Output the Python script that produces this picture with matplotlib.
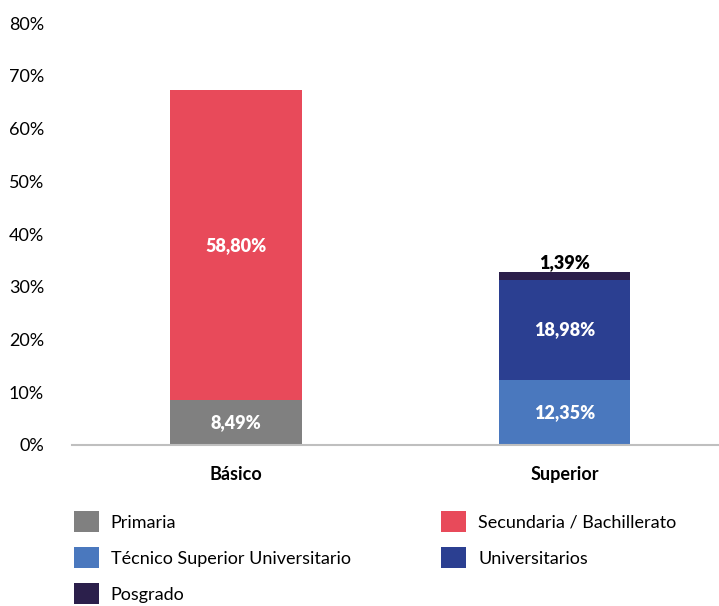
import matplotlib
matplotlib.use("Agg")
import matplotlib.pyplot as plt
from matplotlib.patches import Patch

plt.rcParams['font.family'] = ['Lato', 'DejaVu Sans']

categories = ['Básico', 'Superior']
series = ['Primaria', 'Secundaria / Bachillerato', 'Técnico Superior Universitario',
          'Universitarios', 'Posgrado']
# share of each level within its category (percent)
values = {
    'Primaria': [8.49, 0],
    'Secundaria / Bachillerato': [58.80, 0],
    'Técnico Superior Universitario': [0, 12.35],
    'Universitarios': [0, 18.98],
    'Posgrado': [0, 1.39],
}
labels = {
    'Primaria': ['8,49%', ''],
    'Secundaria / Bachillerato': ['58,80%', ''],
    'Técnico Superior Universitario': ['', '12,35%'],
    'Universitarios': ['', '18,98%'],
    'Posgrado': ['', '1,39%'],
}
yticks = [0, 10, 20, 30, 40, 50, 60, 70, 80]
colors = {
    'Primaria': '#808080',
    'Secundaria / Bachillerato': '#E84A5A',
    'Técnico Superior Universitario': '#4A78BE',
    'Universitarios': '#2B3F91',
    'Posgrado': '#2B1F4B',
}

fig = plt.figure(figsize=(7.19, 6.06), dpi=100)
ax = fig.add_axes([0.100, 0.2657, 0.900, 0.6963])

x = range(len(categories))
bottom = [0, 0]
for s in series:
    v = values[s]
    ax.bar(x, v, width=0.4, bottom=bottom, color=colors[s], label=s)
    for i in x:
        if v[i] <= 0:
            continue
        if v[i] < 5:
            ax.text(i, bottom[i] + v[i] + 0.3, labels[s][i], ha='center', va='bottom',
                    fontsize=13, fontweight='heavy', color='black')
        else:
            ax.text(i, bottom[i] + v[i] / 2, labels[s][i], ha='center', va='center',
                    fontsize=13, fontweight='heavy', color='white')
    bottom = [b + vv for b, vv in zip(bottom, v)]

ax.set_ylim(0, 80)
ax.set_xlim(-0.5, 1.47)
ax.set_yticks(yticks)
ax.set_yticklabels([f'{t}%' for t in yticks], fontsize=13)
ax.set_xticks(list(x))
ax.set_xticklabels(categories, fontsize=13, fontweight='bold')
ax.tick_params(axis='y', length=0, pad=20)
ax.tick_params(axis='x', length=0, pad=15)
for sp in ['top', 'right', 'left']:
    ax.spines[sp].set_visible(False)
ax.spines['bottom'].set_color('#BFBFBF')
ax.spines['bottom'].set_linewidth(1.5)

order = ['Primaria', 'Técnico Superior Universitario', 'Posgrado',
         'Secundaria / Bachillerato', 'Universitarios']
handles = [Patch(facecolor=colors[s], label=s) for s in order]
fig.legend(handles=handles, ncol=2, loc='upper left', bbox_to_anchor=(0.080, 0.183),
           frameon=False, fontsize=13, handlelength=1.4, handleheight=1.4,
           handletextpad=0.65, labelspacing=0.84, columnspacing=5.0)

fig.savefig('out.png', dpi=100)
